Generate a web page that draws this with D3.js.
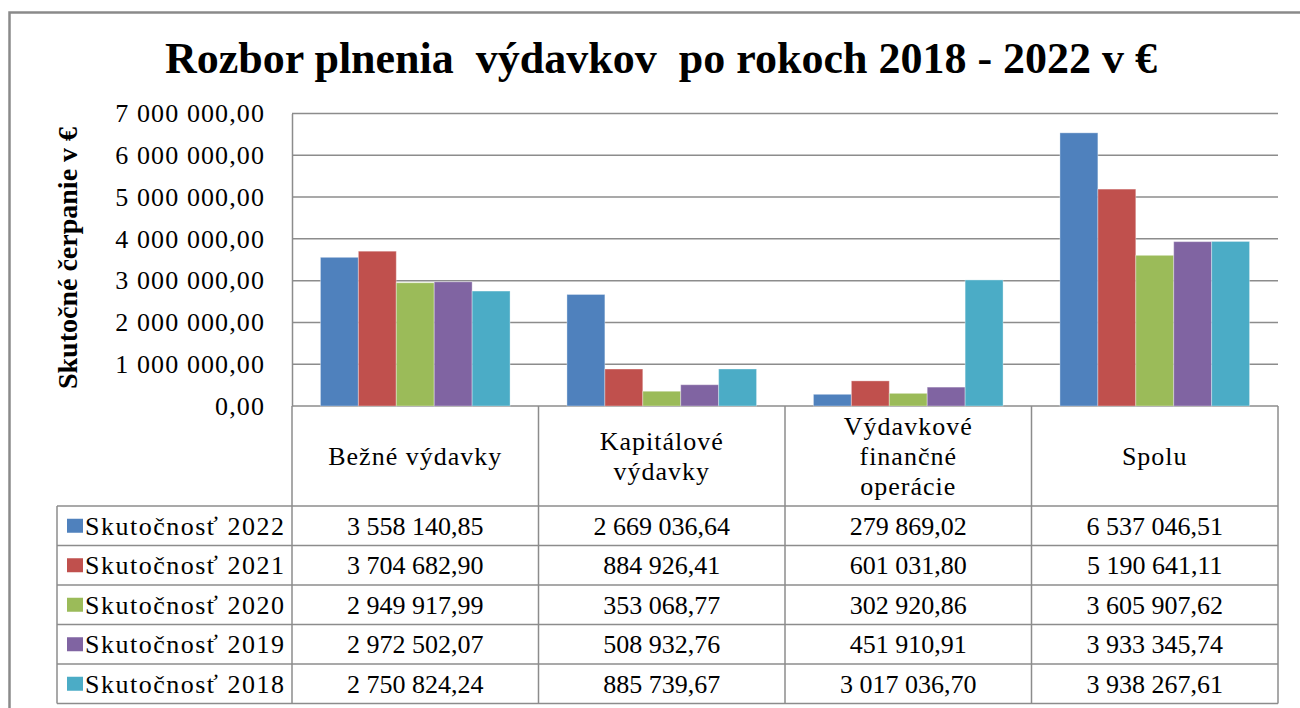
<!DOCTYPE html>
<html>
<head>
<meta charset="utf-8">
<script src="https://cdn.jsdelivr.net/npm/d3@7"></script>
<style>
  body { margin: 0; background: #fff; font-family: "Times New Roman", Tinos, "Liberation Serif", serif; }
</style>
</head>
<body>
<div id="chart"></div>
<script>
// categories (columns of the data table)
const categories = ["Bežné výdavky", "Kapitálové výdavky", "Výdavkové finančné operácie", "Spolu"];
const categoryLines = [["Bežné výdavky"], ["Kapitálové", "výdavky"], ["Výdavkové", "finančné", "operácie"], ["Spolu"]];

// series (rows of the data table)
const series = ["Skutočnosť 2022", "Skutočnosť 2021", "Skutočnosť 2020", "Skutočnosť 2019", "Skutočnosť 2018"];
const colors = ["#4f81bd", "#c0504d", "#9bbb59", "#8064a2", "#4bacc6"];

const values2022 = [3558140.85, 2669036.64, 279869.02, 6537046.51];
const values2021 = [3704682.90, 884926.41, 601031.80, 5190641.11];
const values2020 = [2949917.99, 353068.77, 302920.86, 3605907.62];
const values2019 = [2972502.07, 508932.76, 451910.91, 3933345.74];
const values2018 = [2750824.24, 885739.67, 3017036.70, 3938267.61];
const seriesValues = [values2022, values2021, values2020, values2019, values2018];

const yTicks = [0, 1000000, 2000000, 3000000, 4000000, 5000000, 6000000, 7000000];

const svg = d3.select("#chart").append("svg")
  .attr("width", 1300)
  .attr("height", 708);

// slovak number format: space as thousands separator, comma as decimal
const sk = d3.formatLocale({ decimal: ",", thousands: " ", grouping: [3], currency: ["", " €"] });
const fmt = sk.format(",.2f");

// outer chart border (right side runs off the picture)
svg.append("rect")
  .attr("x", 9.5).attr("y", 12.5)
  .attr("width", 1320).attr("height", 720)
  .attr("fill", "none")
  .attr("stroke", "#8a8a8a")
  .attr("stroke-width", 2.5);

// title
svg.append("text")
  .attr("x", 661).attr("y", 73)
  .attr("text-anchor", "middle")
  .attr("font-size", 44)
  .attr("font-weight", "bold")
  .text("Rozbor plnenia \u00a0výdavkov \u00a0po rokoch 2018 - 2022 v €");

// y axis title
svg.append("text")
  .attr("transform", "translate(77,258) rotate(-90)")
  .attr("text-anchor", "middle")
  .attr("font-size", 28)
  .attr("font-weight", "bold")
  .text("Skutočné čerpanie v €");

// scales
const x0 = d3.scaleBand().domain(categories).range([292, 1278]);
const x1 = d3.scaleBand().domain(series).range([0, x0.bandwidth()]).paddingOuter(0.75);
const y = d3.scaleLinear().domain([0, 7000000]).range([406, 113.5]);

// gridlines
svg.append("g")
  .selectAll("line")
  .data(yTicks)
  .enter().append("line")
  .attr("x1", 292).attr("x2", 1278)
  .attr("y1", d => y(d)).attr("y2", d => y(d))
  .attr("stroke", "#8c8c8c")
  .attr("stroke-width", 1.5);

// y axis with labels
const yAxis = svg.append("g")
  .attr("transform", "translate(292,0)")
  .call(d3.axisLeft(y).tickValues(yTicks).tickSize(0).tickPadding(27).tickFormat(fmt));
yAxis.attr("font-family", null).attr("font-size", 26);
yAxis.select(".domain").attr("stroke", "#8c8c8c").attr("stroke-width", 1.5);
yAxis.selectAll("text")
  .attr("font-size", 26)
  .attr("letter-spacing", 1.1)
  .attr("fill", "#000");

// bars
const groups = svg.append("g")
  .selectAll("g")
  .data(categories)
  .enter().append("g")
  .attr("transform", d => `translate(${x0(d)},0)`);

groups.selectAll("rect")
  .data((d, ci) => series.map((s, si) => ({ s: s, si: si, v: seriesValues[si][ci] })))
  .enter().append("rect")
  .attr("x", d => x1(d.s))
  .attr("y", d => y(d.v))
  .attr("width", x1.bandwidth())
  .attr("height", d => y(0) - y(d.v))
  .attr("fill", d => colors[d.si])
  .attr("stroke", "rgba(255,255,255,0.35)")
  .attr("stroke-width", 1);

// data table
const rowTop = 506;
const rowH = 39.5;
const tableBottom = rowTop + rowH * series.length;
const legendLeft = 57;
const gridColor = "#8c8c8c";

const table = svg.append("g");

// horizontal row lines
table.selectAll("line.row")
  .data(d3.range(series.length + 1))
  .enter().append("line")
  .attr("class", "row")
  .attr("x1", legendLeft).attr("x2", 1278)
  .attr("y1", i => rowTop + i * rowH).attr("y2", i => rowTop + i * rowH)
  .attr("stroke", gridColor).attr("stroke-width", 1.5);

// vertical lines at category boundaries
const vx = categories.map(c => x0(c)).concat([1278]);
table.selectAll("line.col")
  .data(vx)
  .enter().append("line")
  .attr("class", "col")
  .attr("x1", d => d).attr("x2", d => d)
  .attr("y1", 406).attr("y2", tableBottom)
  .attr("stroke", gridColor).attr("stroke-width", 1.5);

// legend column left edge
table.append("line")
  .attr("x1", legendLeft).attr("x2", legendLeft)
  .attr("y1", rowTop).attr("y2", tableBottom)
  .attr("stroke", gridColor).attr("stroke-width", 1.5);

// category headers
const lineH = 30;
categoryLines.forEach((lines, i) => {
  const cx = x0(categories[i]) + x0.bandwidth() / 2;
  const top = 456 - (lines.length - 1) * lineH / 2;
  lines.forEach((l, j) => {
    table.append("text")
      .attr("x", cx)
      .attr("y", top + j * lineH + 9)
      .attr("text-anchor", "middle")
      .attr("font-size", 26)
      .attr("letter-spacing", 1)
      .text(l);
  });
});

// legend keys, names and values
series.forEach((s, si) => {
  const cy = rowTop + si * rowH + rowH / 2;
  table.append("rect")
    .attr("x", 67).attr("y", cy - 7)
    .attr("width", 16).attr("height", 14)
    .attr("fill", colors[si]);
  table.append("text")
    .attr("x", 85).attr("y", cy + 9)
    .attr("font-size", 26)
    .attr("letter-spacing", 1.5)
    .text(s);

  categories.forEach((c, ci) => {
    table.append("text")
      .attr("x", x0(c) + x0.bandwidth() / 2)
      .attr("y", cy + 9)
      .attr("text-anchor", "middle")
      .attr("font-size", 26)
      .text(fmt(seriesValues[si][ci]));
  });
});
</script>
</body>
</html>
